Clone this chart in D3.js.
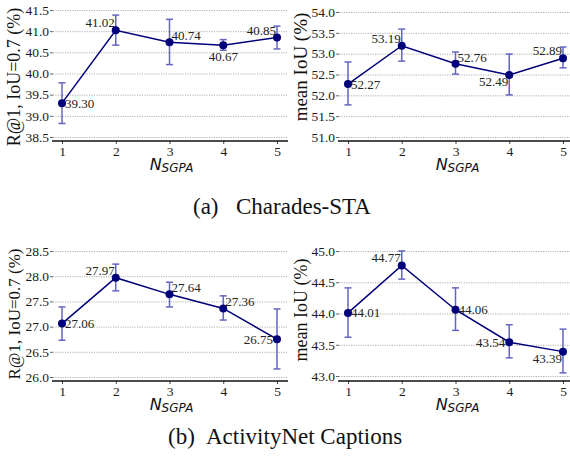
<!DOCTYPE html>
<html>
<head>
<meta charset="utf-8">
<script src="https://cdn.jsdelivr.net/npm/d3@7"></script>
<style>
  body { margin: 0; background: #fff; }
  svg { display: block; }
  .tick text { font-family: "Liberation Serif", "Times New Roman", serif; }
</style>
</head>
<body>
<svg id="fig" width="570" height="459"></svg>
<script>
// x categories: N_SGPA
const nSgpa = [1, 2, 3, 4, 5];

// (a) Charades-STA
const chR1     = [39.30, 41.02, 40.74, 40.67, 40.85];
const chR1Lo   = [38.82, 40.67, 40.21, 40.55, 40.58];
const chR1Hi   = [39.78, 41.38, 41.28, 40.80, 41.12];
const chMiou   = [52.27, 53.19, 52.76, 52.49, 52.89];
const chMiouLo = [51.77, 52.82, 52.51, 52.01, 52.66];
const chMiouHi = [52.80, 53.59, 53.04, 52.99, 53.16];

// (b) ActivityNet Captions
const anR1     = [27.06, 27.97, 27.64, 27.36, 26.75];
const anR1Lo   = [26.73, 27.71, 27.39, 27.13, 26.16];
const anR1Hi   = [27.39, 28.24, 27.88, 27.61, 27.35];
const anMiou   = [44.01, 44.77, 44.06, 43.54, 43.39];
const anMiouLo = [43.62, 44.55, 43.73, 43.29, 43.05];
const anMiouHi = [44.41, 45.00, 44.41, 43.82, 43.75];

// tick labels
const chR1Ticks   = [38.5, 39.0, 39.5, 40.0, 40.5, 41.0, 41.5];
const chMiouTicks = [51.0, 51.5, 52.0, 52.5, 53.0, 53.5, 54.0];
const anR1Ticks   = [26.0, 26.5, 27.0, 27.5, 28.0, 28.5];
const anMiouTicks = [43.0, 43.5, 44.0, 44.5, 45.0];

// where each value label sits next to its point
const chR1Pos   = ["r", "al", "ar", "b", "al"];
const chMiouPos = ["r", "al", "ar", "bl", "al"];
const anR1Pos   = ["r", "al", "ar", "ar", "l"];
const anMiouPos = ["r", "al", "r", "l", "bl"];

const r1Title = "R@1, IoU=0.7 (%)";
const miouTitle = "mean IoU (%)";

const svg = d3.select("#fig");
const serif = "'Liberation Serif', 'Times New Roman', serif";

const lineColor = "#00007a";
const errColor = "#5555bd";

const panels = [
  { v: chR1, lo: chR1Lo, hi: chR1Hi, ticks: chR1Ticks, pos: chR1Pos, title: r1Title,
    x: [62, 277], frame: [52, 288], y: [137, 10], axisY: 141,
    titleX: 20, titleY: 77, titleSize: 18 },
  { v: chMiou, lo: chMiouLo, hi: chMiouHi, ticks: chMiouTicks, pos: chMiouPos, title: miouTitle,
    x: [348, 563], frame: [338, 570], y: [137, 12], axisY: 141,
    titleX: 307, titleY: 67, titleSize: 19 },
  { v: anR1, lo: anR1Lo, hi: anR1Hi, ticks: anR1Ticks, pos: anR1Pos, title: r1Title,
    x: [62, 277], frame: [52, 288], y: [377, 251], axisY: 381,
    titleX: 20, titleY: 314, titleSize: 17 },
  { v: anMiou, lo: anMiouLo, hi: anMiouHi, ticks: anMiouTicks, pos: anMiouPos, title: miouTitle,
    x: [348, 563], frame: [338, 570], y: [376, 251], axisY: 381,
    titleX: 307, titleY: 310, titleSize: 18 }
];

const labelOffsets = {
  r:  { anchor: "start",  dx: 3,  dy: 4.5 },
  l:  { anchor: "end",    dx: -4, dy: 5 },
  al: { anchor: "end",    dx: -1, dy: -3 },
  ar: { anchor: "start",  dx: 2,  dy: -2 },
  b:  { anchor: "middle", dx: 0,  dy: 16 },
  bl: { anchor: "end",    dx: -1, dy: 11 }
};

panels.forEach(p => {
  const g = svg.append("g");

  const x = d3.scaleLinear().domain([1, 5]).range(p.x);
  const y = d3.scaleLinear()
    .domain([p.ticks[0], p.ticks[p.ticks.length - 1]])
    .range(p.y);

  const gridLeft = p.frame[0] + 1;
  const gridW = p.frame[1] - gridLeft;

  // dotted grid
  g.append("g")
    .attr("transform", `translate(${gridLeft},0)`)
    .call(d3.axisLeft(y).tickValues(p.ticks).tickSize(-gridW).tickFormat(""))
    .call(s => s.select(".domain").remove())
    .call(s => s.selectAll(".tick line")
      .attr("stroke", "#b0b0b0")
      .attr("stroke-dasharray", "1.2,1.2"));

  // y ticks + labels
  g.append("g")
    .attr("transform", `translate(${gridLeft},0)`)
    .call(d3.axisLeft(y).tickValues(p.ticks).tickSize(3).tickPadding(1)
      .tickFormat(d3.format(".1f")))
    .call(s => s.select(".domain").remove())
    .call(s => s.selectAll(".tick line").attr("stroke", "#666"))
    .call(s => s.selectAll(".tick text")
      .attr("font-size", 13.5).attr("fill", "#1a1a1a"));

  // x axis
  g.append("g")
    .attr("transform", `translate(0,${p.axisY})`)
    .call(d3.axisBottom(x).tickValues(nSgpa).tickSize(3).tickPadding(2)
      .tickFormat(d3.format("d")))
    .call(s => s.select(".domain").remove())
    .call(s => s.selectAll(".tick line").attr("stroke", "#444"))
    .call(s => s.selectAll(".tick text")
      .attr("font-size", 13.5).attr("fill", "#1a1a1a"));

  g.append("line")
    .attr("x1", p.frame[0]).attr("x2", p.frame[1])
    .attr("y1", p.axisY).attr("y2", p.axisY)
    .attr("stroke", "#111").attr("stroke-width", 1.3);

  // y title
  g.append("text")
    .attr("transform", `translate(${p.titleX},${p.titleY}) rotate(-90)`)
    .attr("text-anchor", "middle")
    .attr("font-family", serif)
    .attr("font-size", p.titleSize)
    .attr("fill", "#111")
    .text(p.title);

  // x title N_SGPA
  const xt = g.append("text")
    .attr("x", (p.x[0] + p.x[1]) / 2 + 2)
    .attr("y", p.axisY + 29)
    .attr("text-anchor", "middle")
    .attr("font-family", "'DejaVu Sans', sans-serif")
    .attr("font-style", "italic")
    .attr("fill", "#111");
  xt.append("tspan").attr("font-size", 16).text("N");
  xt.append("tspan").attr("font-size", 12).attr("dy", 2).text("SGPA");

  const pts = nSgpa.map((n, i) => ({ n, v: p.v[i], lo: p.lo[i], hi: p.hi[i], pos: p.pos[i] }));

  // error bars
  const eb = g.selectAll("g.err").data(pts).enter().append("g")
    .attr("stroke", errColor).attr("stroke-width", 1.5).attr("opacity", 0.9);
  eb.append("line")
    .attr("x1", d => x(d.n)).attr("x2", d => x(d.n))
    .attr("y1", d => y(d.lo)).attr("y2", d => y(d.hi));
  eb.append("line")
    .attr("x1", d => x(d.n) - 3.5).attr("x2", d => x(d.n) + 3.5)
    .attr("y1", d => y(d.lo)).attr("y2", d => y(d.lo));
  eb.append("line")
    .attr("x1", d => x(d.n) - 3.5).attr("x2", d => x(d.n) + 3.5)
    .attr("y1", d => y(d.hi)).attr("y2", d => y(d.hi));

  // line
  g.append("path")
    .datum(pts)
    .attr("fill", "none")
    .attr("stroke", lineColor)
    .attr("stroke-width", 1.5)
    .attr("d", d3.line().x(d => x(d.n)).y(d => y(d.v)));

  // points
  g.selectAll("circle.pt").data(pts).enter().append("circle")
    .attr("cx", d => x(d.n)).attr("cy", d => y(d.v))
    .attr("r", 4).attr("fill", lineColor);

  // value labels
  g.selectAll("text.val").data(pts).enter().append("text")
    .attr("x", d => x(d.n) + labelOffsets[d.pos].dx)
    .attr("y", d => y(d.v) + labelOffsets[d.pos].dy)
    .attr("text-anchor", d => labelOffsets[d.pos].anchor)
    .attr("font-family", serif)
    .attr("font-size", 13)
    .attr("fill", "#222")
    .text(d => d.v.toFixed(2));
});

// sub-captions
const captions = [
  { tag: "(a)", name: "Charades-STA", x0: 193, x1: 236, y: 214 },
  { tag: "(b)", name: "ActivityNet Captions", x0: 168, x1: 206, y: 444 }
];
captions.forEach(c => {
  const t = svg.append("text")
    .attr("y", c.y)
    .attr("font-family", serif)
    .attr("font-size", 23)
    .attr("fill", "#111");
  t.append("tspan").attr("x", c.x0).text(c.tag);
  t.append("tspan").attr("x", c.x1).text(c.name);
});
</script>
</body>
</html>
